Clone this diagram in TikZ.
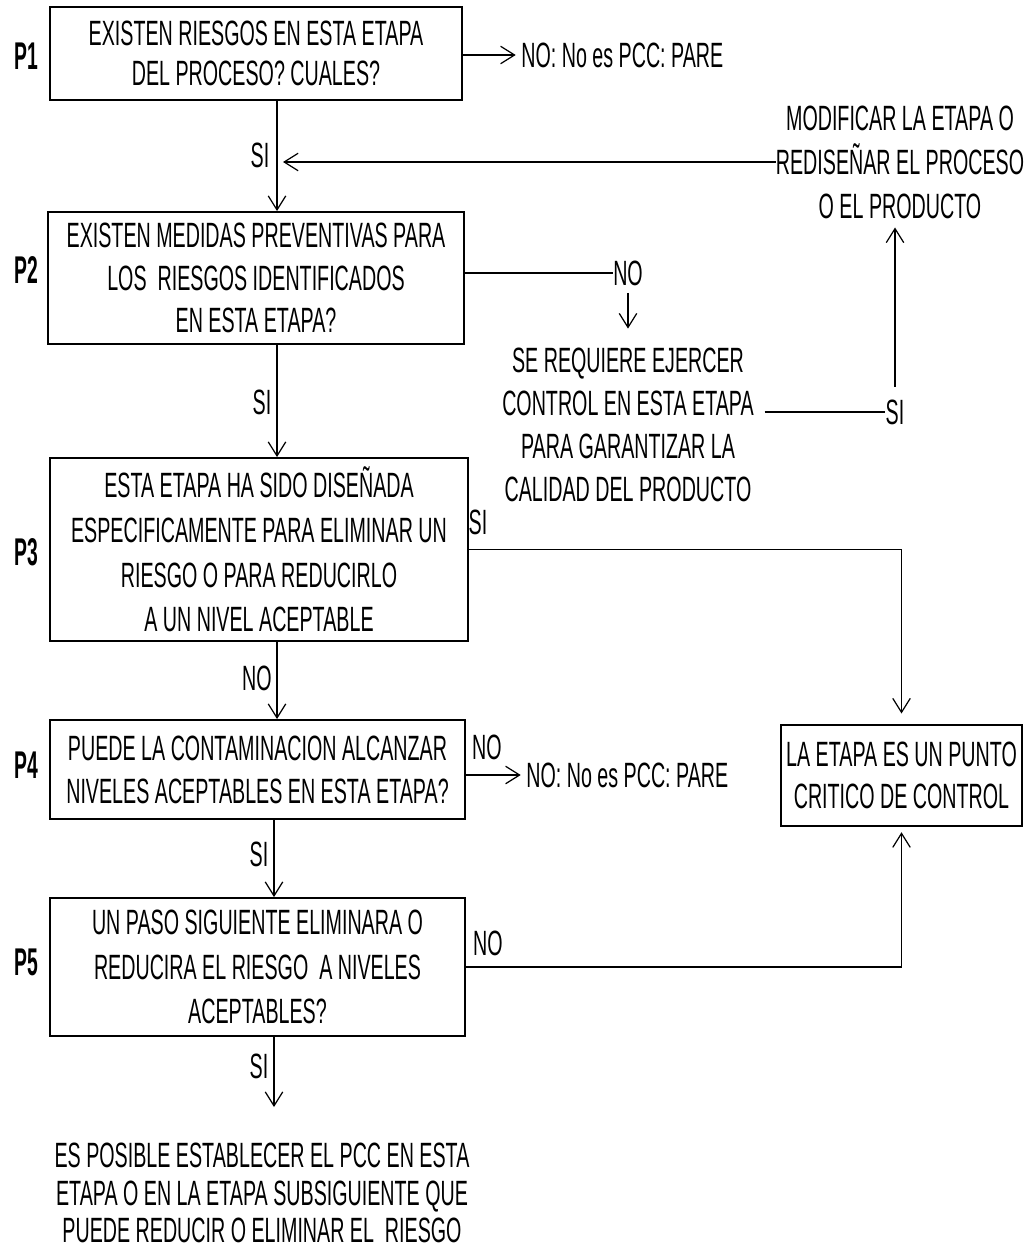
\documentclass[tikz,border=0pt]{standalone}
\usepackage{fontspec}
\setmainfont[FakeStretch=0.56]{Liberation Sans}
\newfontfamily\lblfont[FakeStretch=0.5]{Liberation Sans}
\usetikzlibrary{arrows.meta}
\begin{document}
\begin{tikzpicture}[x=0.02cm,y=-0.02cm,
  txt/.style={font=\fontsize{20pt}{#1}\selectfont, align=center, inner sep=0pt},
  txt/.default=24.4pt,
  box/.style={draw, line width=1.1pt, txt=#1},
  box/.default=24.4pt,
  lbl/.style={font=\lblfont\bfseries\fontsize{22pt}{26pt}\selectfont, inner sep=0pt},
  arr/.style={-{Straight Barb[length=2.8mm,width=3.5mm]}, line width=0.7pt},
  ln/.style={line width=0.7pt}]
\useasboundingbox (0,0) rectangle (1026,1253);

% question boxes
\node[box=22.7pt, minimum width=8.24cm, minimum height=1.86cm] (P1) at (256,53.5)
  {EXISTEN RIESGOS EN ESTA ETAPA\\DEL PROCESO? CUALES?};
\node[box=24.4pt, minimum width=8.32cm, minimum height=2.64cm] (P2) at (256,278)
  {EXISTEN MEDIDAS PREVENTIVAS PARA\\LOS \ RIESGOS IDENTIFICADOS\\EN ESTA ETAPA?};
\node[box=25.5pt, minimum width=8.36cm, minimum height=3.66cm] (P3) at (259,549.5)
  {ESTA ETAPA HA SIDO DISEÑADA\\ESPECIFICAMENTE PARA ELIMINAR UN\\RIESGO O PARA REDUCIRLO\\A UN NIVEL ACEPTABLE};
\node[box=24.4pt, minimum width=8.30cm, minimum height=1.98cm] (P4) at (257.5,769.5)
  {PUEDE LA CONTAMINACION ALCANZAR\\NIVELES ACEPTABLES EN ESTA ETAPA?};
\node[box=25.5pt, minimum width=8.30cm, minimum height=2.76cm] (P5) at (257.5,967)
  {UN PASO SIGUIENTE ELIMINARA O\\REDUCIRA EL RIESGO \ A NIVELES\\ACEPTABLES?};
\node[box=24pt, minimum width=4.82cm, minimum height=2.02cm] (PCC) at (901.5,775.5)
  {LA ETAPA ES UN PUNTO\\CRITICO DE CONTROL};

% row labels
\node[lbl] (L1) at (26,56) {P1};
\node[lbl] (L2) at (26,270) {P2};
\node[lbl] (L3) at (26,552) {P3};
\node[lbl] (L4) at (26,765) {P4};
\node[lbl] (L5) at (26,962) {P5};

% free texts
\node[txt, anchor=west] (no1) at (521,55) {NO: No es PCC: PARE};
\node[txt=25pt] (mod) at (900,162) {MODIFICAR LA ETAPA O\\REDISEÑAR EL PROCESO\\O EL PRODUCTO};
\node[txt] (no2) at (628,273) {NO};
\node[txt=24.4pt] (req) at (628,425) {SE REQUIERE EJERCER\\CONTROL EN ESTA ETAPA\\PARA GARANTIZAR LA\\CALIDAD DEL PRODUCTO};
\node[txt] (si4) at (895,412) {SI};
\node[txt] (si3) at (478,522) {SI};
\node[txt] (no4l) at (487,747) {NO};
\node[txt, anchor=west] (no4) at (526,775) {NO: No es PCC: PARE};
\node[txt] (no5) at (488,943) {NO};
\node[txt=21.5pt] (fin) at (262,1193) {ES POSIBLE ESTABLECER EL PCC EN ESTA\\ETAPA O EN LA ETAPA SUBSIGUIENTE QUE\\PUEDE REDUCIR O ELIMINAR EL \ RIESGO};

% labels along the main column
\node[txt] (si1) at (260,155) {SI};
\node[txt] (si2) at (262,402) {SI};
\node[txt] (no3) at (257,678) {NO};
\node[txt] (si5) at (259,854) {SI};
\node[txt] (si6) at (259,1066) {SI};

\coordinate (vx) at (277,0);
\coordinate (vy) at (274,0);
\coordinate (j1) at (283,160);
\coordinate (e5) at (274,1107);

% connectors
\draw[arr, shorten >=3pt] (P1.east |- no1.west) -- (no1.west);
\draw[arr] (P1.south -| vx) -- (P2.north -| vx);
\draw[arr] (mod.west) -- (mod.west -| j1);
\draw[ln] (P2.east |- no2.west) -- (no2.west);
\draw[arr, shorten <=4pt, shorten >=11pt] (no2.south) -- (no2.south |- req.north);
\draw[ln, shorten <=6pt] (req.east |- si4.west) -- (si4.west);
\draw[arr, shorten <=7pt, shorten >=5pt] (si4.north) -- (si4.north |- mod.south);
\draw[arr] (P2.south -| vx) -- (P3.north -| vx);
\draw[arr, shorten >=6pt] (P3.east) -| (PCC.north);
\draw[arr] (P3.south -| vx) -- (P4.north -| vx);
\draw[arr, shorten >=3pt] (P4.east |- no4.west) -- (no4.west);
\draw[arr] (P4.south -| vy) -- (P5.north -| vy);
\draw[arr, shorten >=3pt] (P5.east) -| (PCC.south);
\draw[arr] (P5.south -| vy) -- (e5);
\end{tikzpicture}
\end{document}
